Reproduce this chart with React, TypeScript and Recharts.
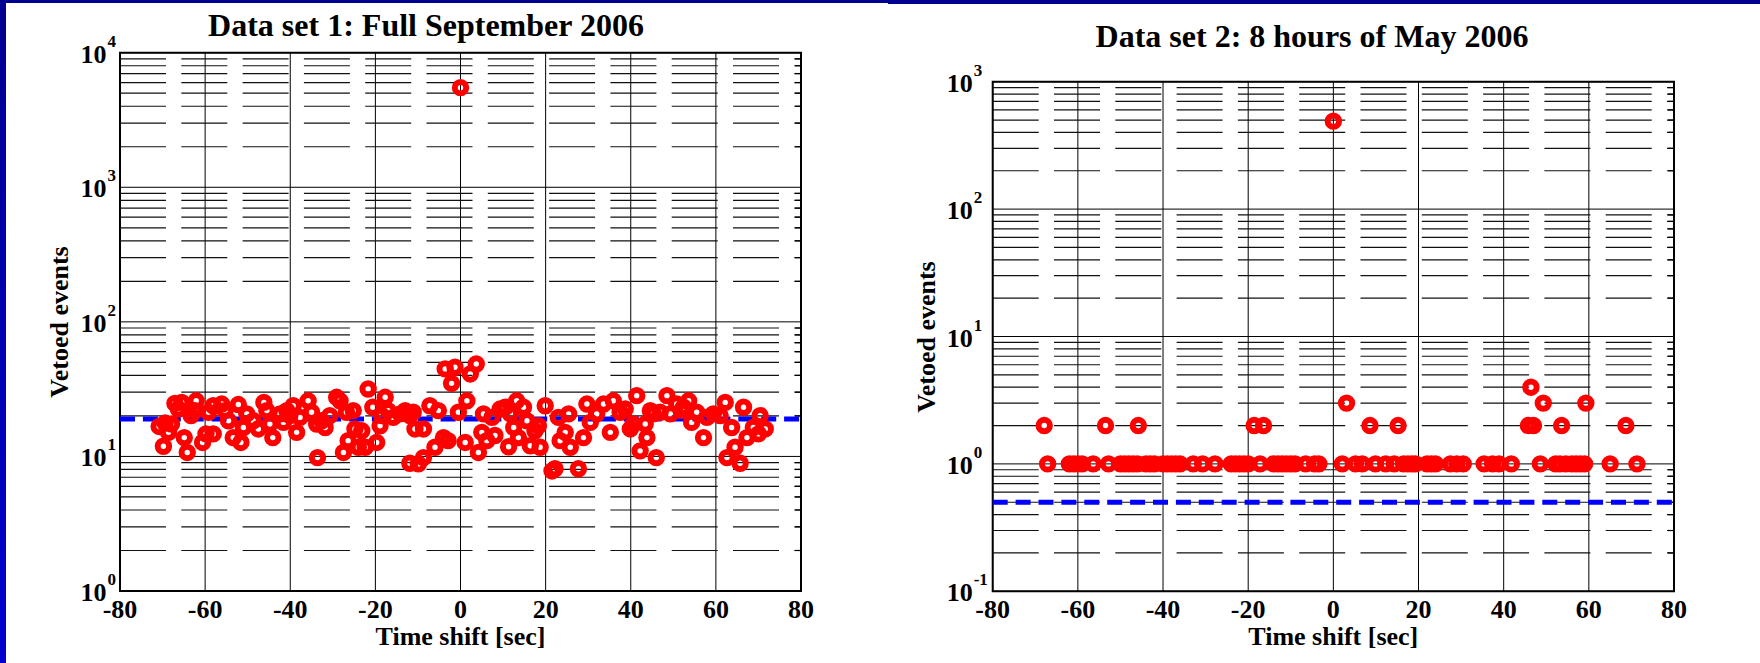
import React from 'react';
import { ScatterChart, Scatter, XAxis, YAxis, CartesianGrid, ReferenceLine, ReferenceArea } from 'recharts';

// ---------- text ----------
const title1 = 'Data set 1: Full September 2006';
const title2 = 'Data set 2: 8 hours of May 2006';
const xLabel = 'Time shift [sec]';
const yLabel = 'Vetoed events';

// ---------- ticks ----------
const xTicks = [-80, -60, -40, -20, 0, 20, 40, 60, 80];
const yTicks1 = [1, 10, 100, 1000, 10000];
const yTicks2 = [0.1, 1, 10, 100, 1000];

// ---------- data set 1 ----------
const set1Shift = [
  -70.8, -69.8, -69.4, -68.6, -67.9, -67.1, -66.3, -65.5, -64.9, -64.2, -63.3, -62.4, -62.1, -60.6, -59.8, -59.2,
  -58.1, -58.1, -56.1, -55.3, -54.5, -53.4, -52.2, -51.6, -51.0, -50.2, -48.7, -47.5, -46.2, -45.5, -44.8, -44.1,
  -42.4, -41.6, -40.8, -40.1, -39.3, -38.5, -37.7, -35.8, -35.0, -33.8, -33.6, -32.6, -31.8, -30.7, -29.1, -28.3,
  -27.5, -26.8, -26.4, -25.2, -24.8, -24.0, -23.2, -22.4, -21.7, -20.6, -19.7, -18.9, -18.5, -17.7, -17.0, -15.8,
  -14.2, -13.0, -11.9, -11.1, -10.7, -11.9, -9.9, -8.7, -8.7, -7.2, -6.0, -5.2, -4.0, -2.9, -3.6, -2.1,
  -1.3, -0.5, 0, 1.1, 1.5, 2.3, 3.7, 4.2, 5.0, 5.4, 6.2, 7.4, 8.1, 9.3, 10.5, 11.3,
  11.7, 12.5, 13.2, 13.6, 14.8, 15.6, 16.4, 17.5, 18.3, 18.7, 19.9, 21.5, 22.2, 23.0, 23.4, 24.6,
  25.4, 25.8, 27.7, 28.9, 29.7, 30.5, 32.0, 33.6, 35.2, 35.9, 37.5, 38.7, 39.9, 40.6, 41.4, 42.2,
  43.4, 43.8, 44.6, 45.3, 46.0, 46.9, 48.5, 49.3, 50.8, 52.0, 52.4, 53.6, 54.3, 55.5, 57.1, 57.9,
  59.4, 61.0, 62.2, 62.6, 63.7, 64.5, 65.7, 66.5, 67.3, 68.8, 70.0, 70.4, 71.6,
];
const set1Count = [
  16.7, 11.9, 17.7, 15.1, 17.4, 24.8, 22.5, 25.2, 13.8, 10.7, 20.1, 21.9, 25.9, 12.7, 14.7, 21.3,
  14.7, 23.8, 24.5, 21.9, 18.4, 13.8, 24.3, 12.7, 16.4, 20.7, 18.4, 16.0, 25.2, 21.9, 17.4, 13.8,
  20.7, 17.9, 21.9, 20.1, 23.8, 15.1, 19.5, 25.9, 21.3, 17.4, 9.8, 18.4, 16.4, 20.1, 27.5, 25.9,
  10.7, 21.3, 13.1, 21.9, 16.0, 11.7, 15.5, 11.7, 31.7, 23.2, 12.7, 16.9, 20.1, 27.5, 21.9, 19.5,
  20.7, 21.9, 20.1, 21.3, 16.0, 8.9, 8.8, 9.8, 16.0, 23.8, 11.7, 21.9, 13.8, 13.1, 44.7, 34.9,
  46.0, 21.3, 5500, 12.7, 25.9, 41.0, 48.6, 10.7, 15.1, 20.7, 13.1, 19.5, 14.3, 22.5, 23.2, 11.8,
  20.7, 16.4, 25.9, 13.8, 23.2, 18.4, 12.0, 15.5, 16.9, 11.7, 23.8, 7.8, 8.1, 19.5, 13.1, 15.1,
  20.7, 11.7, 8.1, 13.8, 24.5, 17.9, 20.7, 24.5, 15.1, 25.9, 21.3, 22.5, 16.0, 17.4, 28.3, 11.0,
  17.4, 13.8, 21.9, 20.7, 9.8, 21.3, 28.3, 20.7, 24.5, 22.0, 23.2, 25.9, 17.9, 21.3, 13.8, 19.5,
  20.7, 20.1, 25.2, 9.8, 16.4, 11.7, 8.9, 23.2, 13.8, 16.4, 14.7, 20.1, 16.0,
];
const set1Level = 19;

// ---------- data set 2 ----------
const set2Shift = [
  -67.9, -53.5, -45.8, -18.6, -16.4, 8.6, 15.2, 45.8, 47.0, 53.6, 68.7,
  3.1, 49.3, 59.3,
  46.4,
  0,
  -67.1, -62, -61, -60, -59, -56.4, -52.8, -50, -49, -48, -47, -46, -44, -43, -42, -40,
  -39, -38, -37, -36, -32.9, -30.7, -27.8, -24, -23, -22, -21, -20, -17.2, -14, -13, -12,
  -11, -10, -9, -6.5, -4.4, -3.4, 2.1, 5.2, 6.8, 9.9, 12.3, 14.3, 16.5, 17.5, 18.5, 19.3,
  22, 23, 24, 27.5, 29, 30.5, 35.4, 37.4, 38.9, 41.8, 48.6, 52.2, 53.2, 54.6, 56, 57,
  58, 59, 65, 71.3,
];
const set2Count = [
  2, 2, 2, 2, 2, 2, 2, 2, 2, 2, 2,
  3, 3, 3,
  4,
  490,
  1, 1, 1, 1, 1, 1, 1, 1, 1, 1, 1, 1, 1, 1, 1, 1,
  1, 1, 1, 1, 1, 1, 1, 1, 1, 1, 1, 1, 1, 1, 1, 1,
  1, 1, 1, 1, 1, 1, 1, 1, 1, 1, 1, 1, 1, 1, 1, 1,
  1, 1, 1, 1, 1, 1, 1, 1, 1, 1, 1, 1, 1, 1, 1, 1,
  1, 1, 1, 1,
];
const set2Level = 0.5;

const FONT = '"Liberation Serif", "Times New Roman", serif';

const minorValues = (decades: number[]) => {
  const out: number[] = [];
  for (let i = 0; i < decades.length - 1; i++) {
    for (let m = 2; m <= 9; m++) out.push(+(decades[i] * m).toPrecision(6));
  }
  return out;
};

const RedRing = (props: any) => {
  const { cx, cy } = props;
  if (cx == null || cy == null) return null;
  return <circle cx={cx} cy={cy} r={5.7} fill="none" stroke="#ff0000" strokeWidth={6} />;
};

const XTick = (props: any) => {
  const { x, y, payload } = props;
  return (
    <text x={x} y={y + 27} textAnchor="middle" fontFamily={FONT} fontWeight="bold" fontSize={26} fill="#000">
      {payload.value}
    </text>
  );
};

const makeYTick = (offset: number) => (props: any) => {
  const { x, y, payload } = props;
  const e = Math.round(Math.log10(payload.value));
  const lx = x - offset;
  return (
    <g>
      <text x={lx} y={y + 10} textAnchor="start" fontFamily={FONT} fontWeight="bold" fontSize={26} fill="#000">
        10
      </text>
      <text x={lx + 27} y={y - 6} textAnchor="start" fontFamily={FONT} fontWeight="bold" fontSize={17} fill="#000">
        {e}
      </text>
    </g>
  );
};

type PanelProps = {
  left: number;
  margin: { top: number; right: number; bottom: number; left: number };
  shift: number[];
  count: number[];
  level: number;
  yTicks: number[];
  labelOffset: number;
};

const Panel = ({ left, margin, shift, count, level, yTicks, labelOffset }: PanelProps) => {
  const data = shift.map((t, i) => ({ t, v: count[i] }));
  const minors = minorValues(yTicks);
  const yDomain = [yTicks[0], yTicks[yTicks.length - 1]];
  return (
    <div style={{ position: 'absolute', left, top: 0 }}>
      <ScatterChart width={880} height={663} margin={margin}>
        <CartesianGrid stroke="#000" strokeWidth={1} horizontal vertical />
        {minors.map((m) => (
          <ReferenceLine key={'g' + m} y={m} stroke="#111" strokeWidth={1.2} strokeDasharray="46 15.3" />
        ))}
        {minors.map((m) => (
          <ReferenceLine
            key={'t' + m}
            segment={[
              { x: 78.6, y: m },
              { x: 80, y: m },
            ]}
            stroke="#000"
            strokeWidth={1.2}
          />
        ))}
        <ReferenceLine y={level} stroke="#0000ff" strokeWidth={5} strokeDasharray="15 7.9" />
        <ReferenceArea x1={-80} x2={80} y1={yDomain[0]} y2={yDomain[1]} fill="none" stroke="#000" strokeWidth={2} />
        <XAxis
          type="number"
          dataKey="t"
          domain={[-80, 80]}
          ticks={xTicks}
          interval={0}
          height={50}
          axisLine={false}
          tickLine={false}
          tickSize={0}
          tickMargin={0}
          tick={<XTick />}
          allowDataOverflow
        />
        <YAxis
          type="number"
          dataKey="v"
          scale="log"
          domain={yDomain}
          ticks={yTicks}
          interval={0}
          width={60}
          axisLine={false}
          tickLine={false}
          tickSize={0}
          tickMargin={0}
          tick={makeYTick(labelOffset)}
          allowDataOverflow
        />
        <Scatter data={data} shape={RedRing} isAnimationActive={false} />
      </ScatterChart>
    </div>
  );
};

export default function App() {
  return (
    <div
      style={{
        position: 'absolute',
        left: 0,
        top: 0,
        width: 1760,
        height: 663,
        background: '#fff',
        overflow: 'hidden',
      }}
    >
      <Panel
        left={0}
        margin={{ top: 52.7, right: 79, bottom: 22, left: 60 }}
        shift={set1Shift}
        count={set1Count}
        level={set1Level}
        yTicks={yTicks1}
        labelOffset={39.5}
      />
      <Panel
        left={880}
        margin={{ top: 81.7, right: 86, bottom: 21.7, left: 52.7 }}
        shift={set2Shift}
        count={set2Count}
        level={set2Level}
        yTicks={yTicks2}
        labelOffset={46}
      />
      <svg
        width={1760}
        height={663}
        style={{ position: 'absolute', left: 0, top: 0, pointerEvents: 'none' }}
      >
        <defs>
          <linearGradient id="edge" x1="0" y1="0" x2="0" y2="1">
            <stop offset="0" stopColor="#000090" />
            <stop offset="1" stopColor="#0000d0" />
          </linearGradient>
        </defs>
        <rect x={0} y={0} width={888} height={3} fill="#000090" />
        <rect x={888} y={0} width={872} height={4} fill="#000090" />
        <rect x={0} y={0} width={6} height={663} fill="url(#edge)" />
        <g fontFamily={FONT} fontWeight="bold" fill="#000">
          <text x={426} y={35.5} fontSize={32} textAnchor="middle">{title1}</text>
          <text x={1312} y={46.5} fontSize={32} textAnchor="middle">{title2}</text>
          <text x={460.5} y={645} fontSize={26} textAnchor="middle">{xLabel}</text>
          <text x={1333.3} y={645} fontSize={26} textAnchor="middle">{xLabel}</text>
          <text x={68} y={322} fontSize={26} textAnchor="middle" transform="rotate(-90 68 322)">{yLabel}</text>
          <text x={935} y={337} fontSize={26} textAnchor="middle" transform="rotate(-90 935 337)">{yLabel}</text>
        </g>
      </svg>
    </div>
  );
}
